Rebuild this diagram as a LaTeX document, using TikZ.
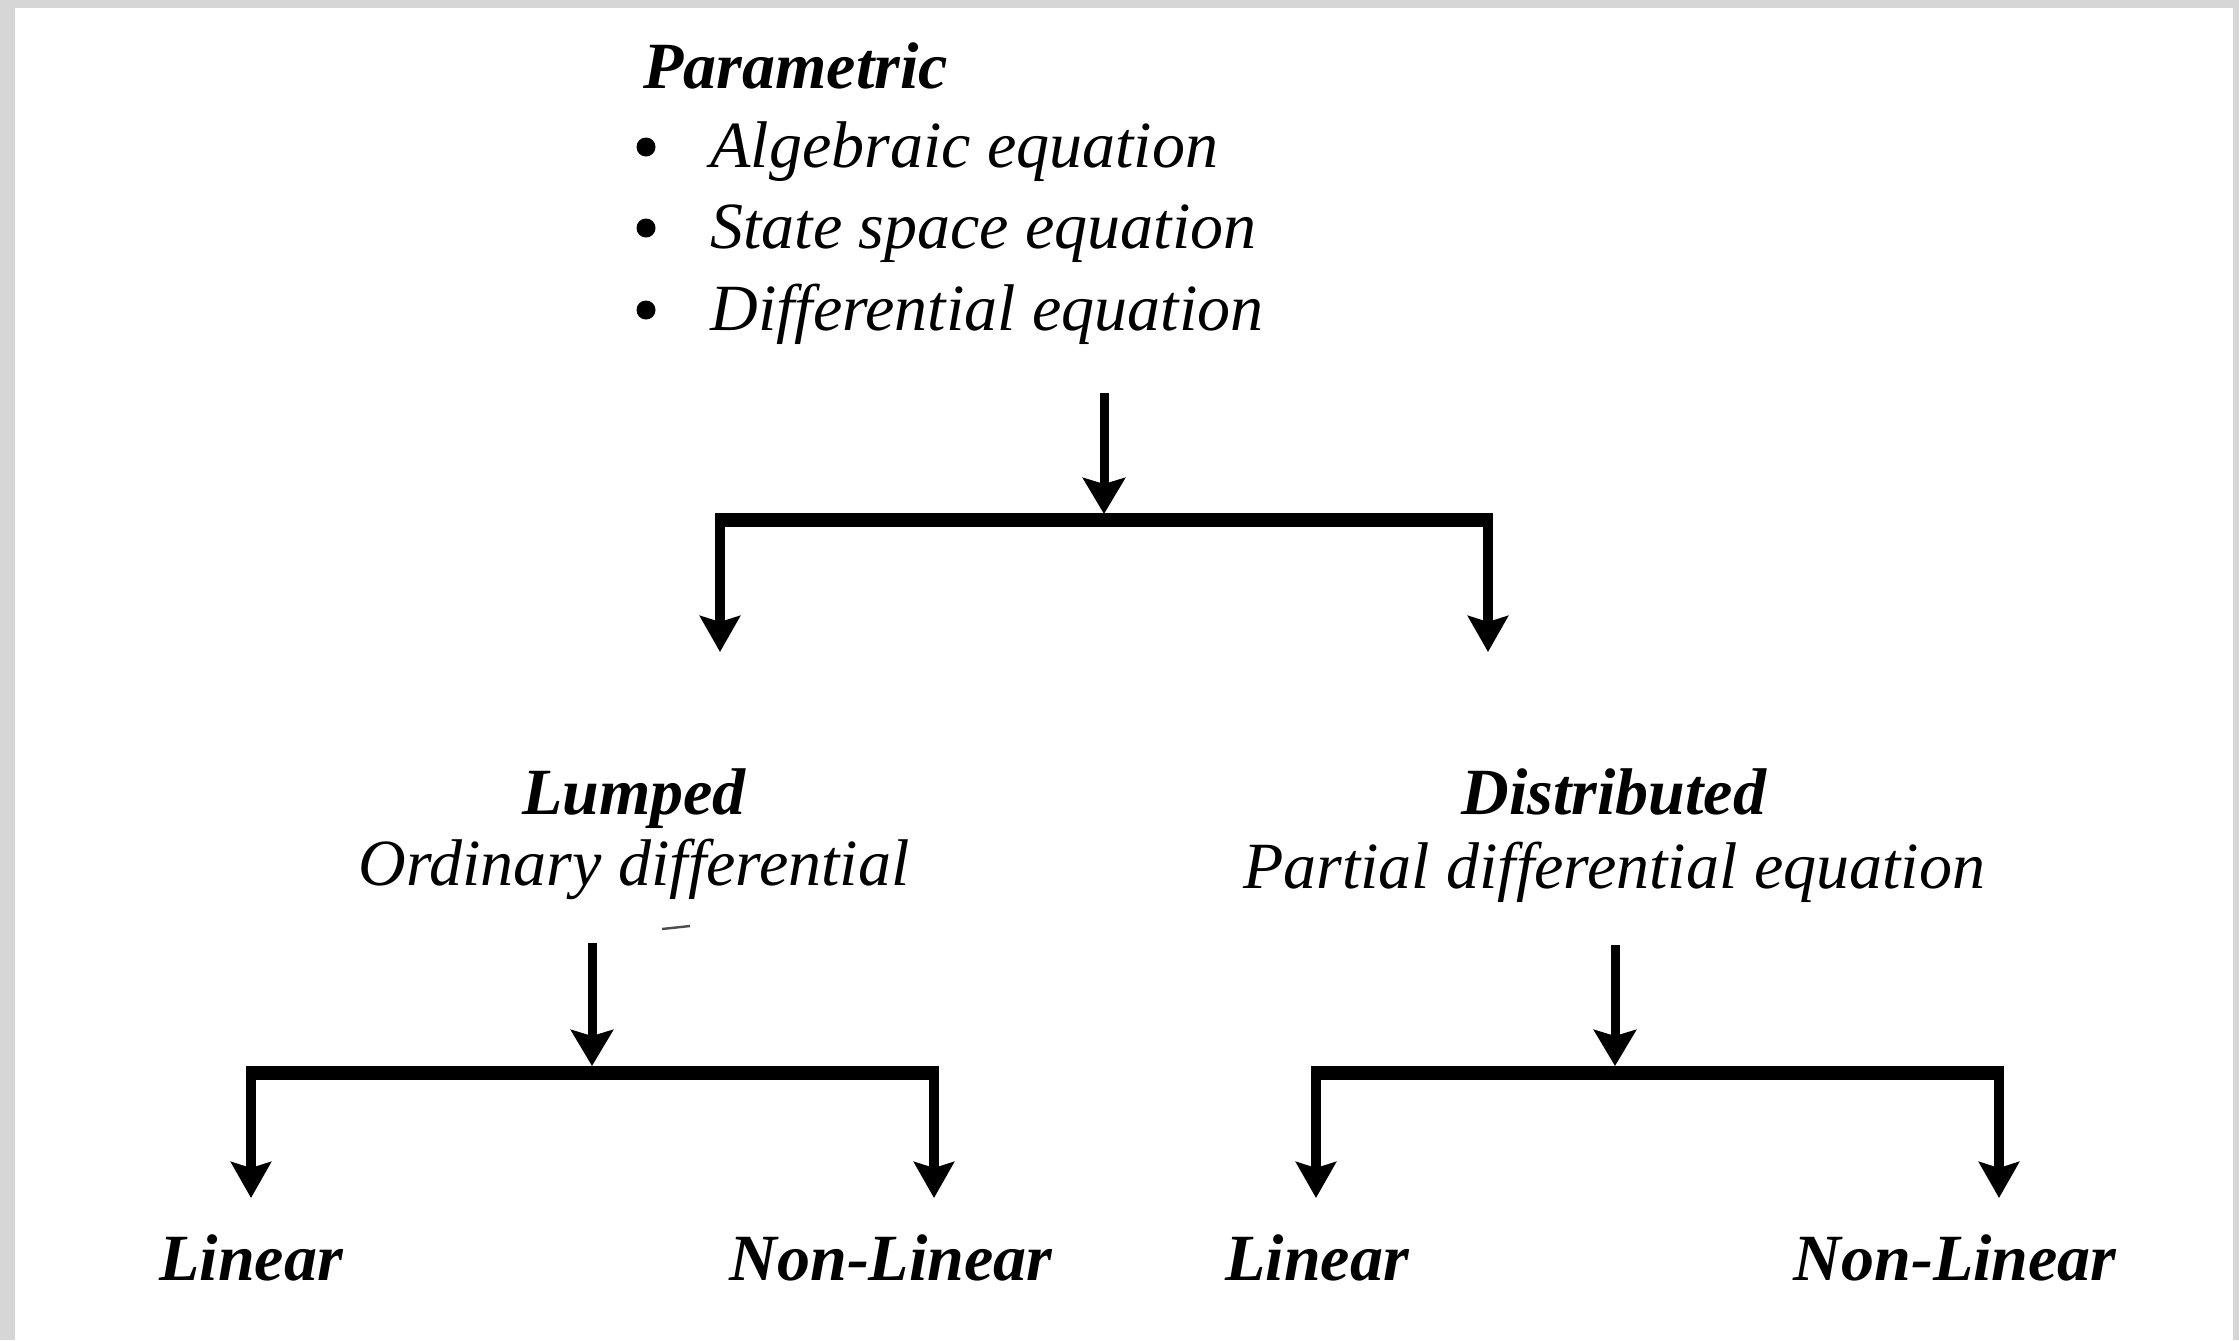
\documentclass[tikz,border=0pt]{standalone}
\usepackage{fontspec}
\setmainfont{Liberation Serif}
\usetikzlibrary{arrows.meta}
\definecolor{framegray}{RGB}{214,214,214}
\tikzset{
  txt/.style={inner sep=0pt, anchor=base, font=\fontsize{33pt}{40pt}\selectfont\itshape},
  head/.style={inner sep=0pt, anchor=base, font=\fontsize{33pt}{40pt}\selectfont\bfseries\itshape},
  bul/.style={circle, fill=black, inner sep=0pt, minimum size=9.5pt},
  feed/.style={line width=4.5pt, -{Stealth[length=18pt,width=21pt,inset=3pt]}},
  barline/.style={line width=7pt, line cap=butt},
  drop/.style={line width=5pt, -{Stealth[length=18pt,width=20pt,inset=3pt]}},
}
\begin{document}
\begin{tikzpicture}[x=0.5pt,y=-0.5pt]
\useasboundingbox (0,0) rectangle (2239,1340);
\fill[framegray] (0,0) rectangle (2239,1340);
\fill[white] (15,8) rectangle (2233,1340);

% top block
\node[head, anchor=base west] (param) at (643,88) {Parametric};
\node[txt, anchor=base west] (i1) at (710,167) {Algebraic equation};
\node[txt, anchor=base west] (i2) at (710,248) {State space equation};
\node[txt, anchor=base west] (i3) at (710,330) {Differential equation};
\node[bul] (b1) at (646,147) {};
\node[bul] (b2) at (646,228) {};
\node[bul] (b3) at (646,310) {};

% top branching
\coordinate (t0) at (1104,393);
\coordinate (tj) at (1104,514);
\coordinate (tl) at (720,520);
\coordinate (tr) at (1488,520);
\coordinate (tla) at (720,652);
\coordinate (tra) at (1488,652);
\draw[feed] (t0) -- (tj);
\draw[barline] ([xshift=-2.5pt]tl) -- ([xshift=2.5pt]tr);
\draw[drop] ([yshift=3pt]tl) -- (tla);
\draw[drop] ([yshift=3pt]tr) -- (tra);

% second level
\node[head] (lumped) at (634,814) {Lumped};
\node[txt] (ode) at (634,885) {Ordinary differential};
\node[head] (dist) at (1614,814) {Distributed};
\node[txt] (pde) at (1614,888) {Partial differential equation};
\draw[line width=1.2pt, black!70] (662,929) -- (690,926);

% lower left branching
\coordinate (l0) at (592,943);
\coordinate (lj) at (592,1066);
\coordinate (ll) at (251,1073);
\coordinate (lr) at (934,1073);
\coordinate (lla) at (251,1198);
\coordinate (lra) at (934,1198);
\draw[feed] (l0) -- (lj);
\draw[barline] ([xshift=-2.5pt]ll) -- ([xshift=2.5pt]lr);
\draw[drop] ([yshift=3pt]ll) -- (lla);
\draw[drop] ([yshift=3pt]lr) -- (lra);

% lower right branching
\coordinate (r0) at (1615,945);
\coordinate (rj) at (1615,1066);
\coordinate (rl) at (1316,1073);
\coordinate (rr) at (1999,1073);
\coordinate (rla) at (1316,1198);
\coordinate (rra) at (1999,1198);
\draw[feed] (r0) -- (rj);
\draw[barline] ([xshift=-2.5pt]rl) -- ([xshift=2.5pt]rr);
\draw[drop] ([yshift=3pt]rl) -- (rla);
\draw[drop] ([yshift=3pt]rr) -- (rra);

% leaves
\node[head] (lin1) at (251,1280) {Linear};
\node[head] (nl1) at (891,1280) {Non-Linear};
\node[head] (lin2) at (1317,1280) {Linear};
\node[head] (nl2) at (1955,1280) {Non-Linear};
\end{tikzpicture}
\end{document}
